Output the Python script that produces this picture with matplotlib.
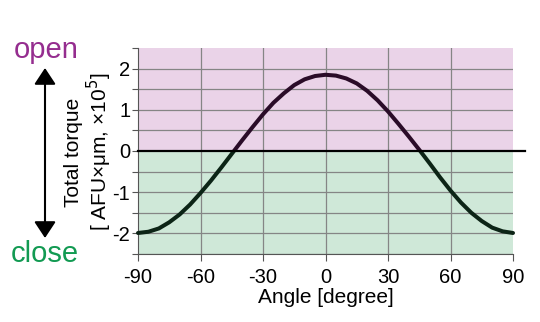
import matplotlib
matplotlib.use("Agg")
import matplotlib.pyplot as plt
from matplotlib.patches import Rectangle, FancyArrowPatch
from matplotlib.lines import Line2D

plt.rcParams['font.family'] = ['Liberation Sans', 'DejaVu Sans']
plt.rcParams['axes.unicode_minus'] = False

# torque curve
angle = [-90, -85, -80, -75, -70, -65, -60, -55, -50, -45, -40, -35, -30,
         -25, -20, -15, -10, -5, 0, 5, 10, 15, 20, 25, 30, 35, 40, 45,
         50, 55, 60, 65, 70, 75, 80, 85, 90]
torque = [-1.99, -1.96, -1.88, -1.73, -1.54, -1.30, -1.02, -0.72, -0.40, -0.07,
          0.26, 0.58, 0.89, 1.17, 1.40, 1.60, 1.74, 1.82, 1.85, 1.83, 1.76,
          1.64, 1.46, 1.23, 0.96, 0.66, 0.35, 0.03, -0.30, -0.64, -0.96,
          -1.25, -1.50, -1.70, -1.86, -1.95, -1.99]
xticks = [-90, -60, -30, 0, 30, 60, 90]
yticks = [-2, -1, 0, 1, 2]

fig = plt.figure(figsize=(5.4, 3.22), dpi=100)
ax = fig.add_axes([138 / 540, 1 - 254 / 322, 375 / 540, 206 / 322])

ax.axhspan(0, 2.5, color='#ead3e8', zorder=0)
ax.axhspan(-2.5, 0, color='#cfe8d8', zorder=0)

for yv in [-2.5, -2, -1.5, -1, -0.5, 0.5, 1, 1.5, 2]:
    ax.axhline(yv, color='#858585', lw=0.9, zorder=1)
for xv in xticks[1:-1]:
    ax.axvline(xv, color='#858585', lw=0.9, zorder=1)

# curve: purplish above zero, greenish below
top, = ax.plot(angle, torque, color='#2a0c28', lw=2.9, solid_capstyle='round', zorder=4)
top.set_clip_path(Rectangle((-100, 0), 200, 3, transform=ax.transData))
bot, = ax.plot(angle, torque, color='#0c2416', lw=2.9, solid_capstyle='round', zorder=4)
bot.set_clip_path(Rectangle((-100, -3), 200, 3, transform=ax.transData))

ax.set_xlim(-90, 90)
ax.set_ylim(-2.5, 2.5)

# zero line runs a bit past the right edge
fig.add_artist(Line2D([138 / 540, 525 / 540], [1 - 151 / 322, 1 - 151 / 322],
                      color='black', lw=1.6, zorder=5))

ax.set_xticks(xticks)
ax.set_yticks(yticks)
ax.set_yticks([-2.5, -1.5, -0.5, 0.5, 1.5, 2.5], minor=True)
ax.tick_params(axis='both', labelsize=14.5, direction='out', length=4, width=0.8,
               color='#555555')
ax.tick_params(axis='y', which='minor', length=4, width=0.8, color='#555555')
ax.tick_params(axis='x', length=5, pad=5)
ax.tick_params(axis='y', pad=1.5)
for s in ['top', 'right']:
    ax.spines[s].set_visible(False)
ax.spines['left'].set_color('#555555')
ax.spines['bottom'].set_color('#555555')

ax.set_xlabel('Angle [degree]', fontsize=15, labelpad=1)
fig.text(89 / 540, 1 - 152 / 322, 'Total torque\n[ AFU×μm, ×10$^5$]',
         rotation=90, ha='center', va='center', fontsize=15, linespacing=1.1)

fig.text(46 / 540, 1 - 58 / 322, 'open', color='#952d8f', fontsize=21,
         ha='center', va='baseline')
fig.text(45 / 540, 1 - 262 / 322, 'close', color='#129a52', fontsize=21,
         ha='center', va='baseline')
fig.patches.append(FancyArrowPatch(
    (45 / 540, 1 - 238 / 322), (45 / 540, 1 - 68 / 322),
    transform=fig.transFigure, arrowstyle='<|-|>,head_length=0.5,head_width=0.33',
    mutation_scale=20, color='black', lw=1.5, shrinkA=0, shrinkB=0))

fig.savefig('out.png', dpi=100)
